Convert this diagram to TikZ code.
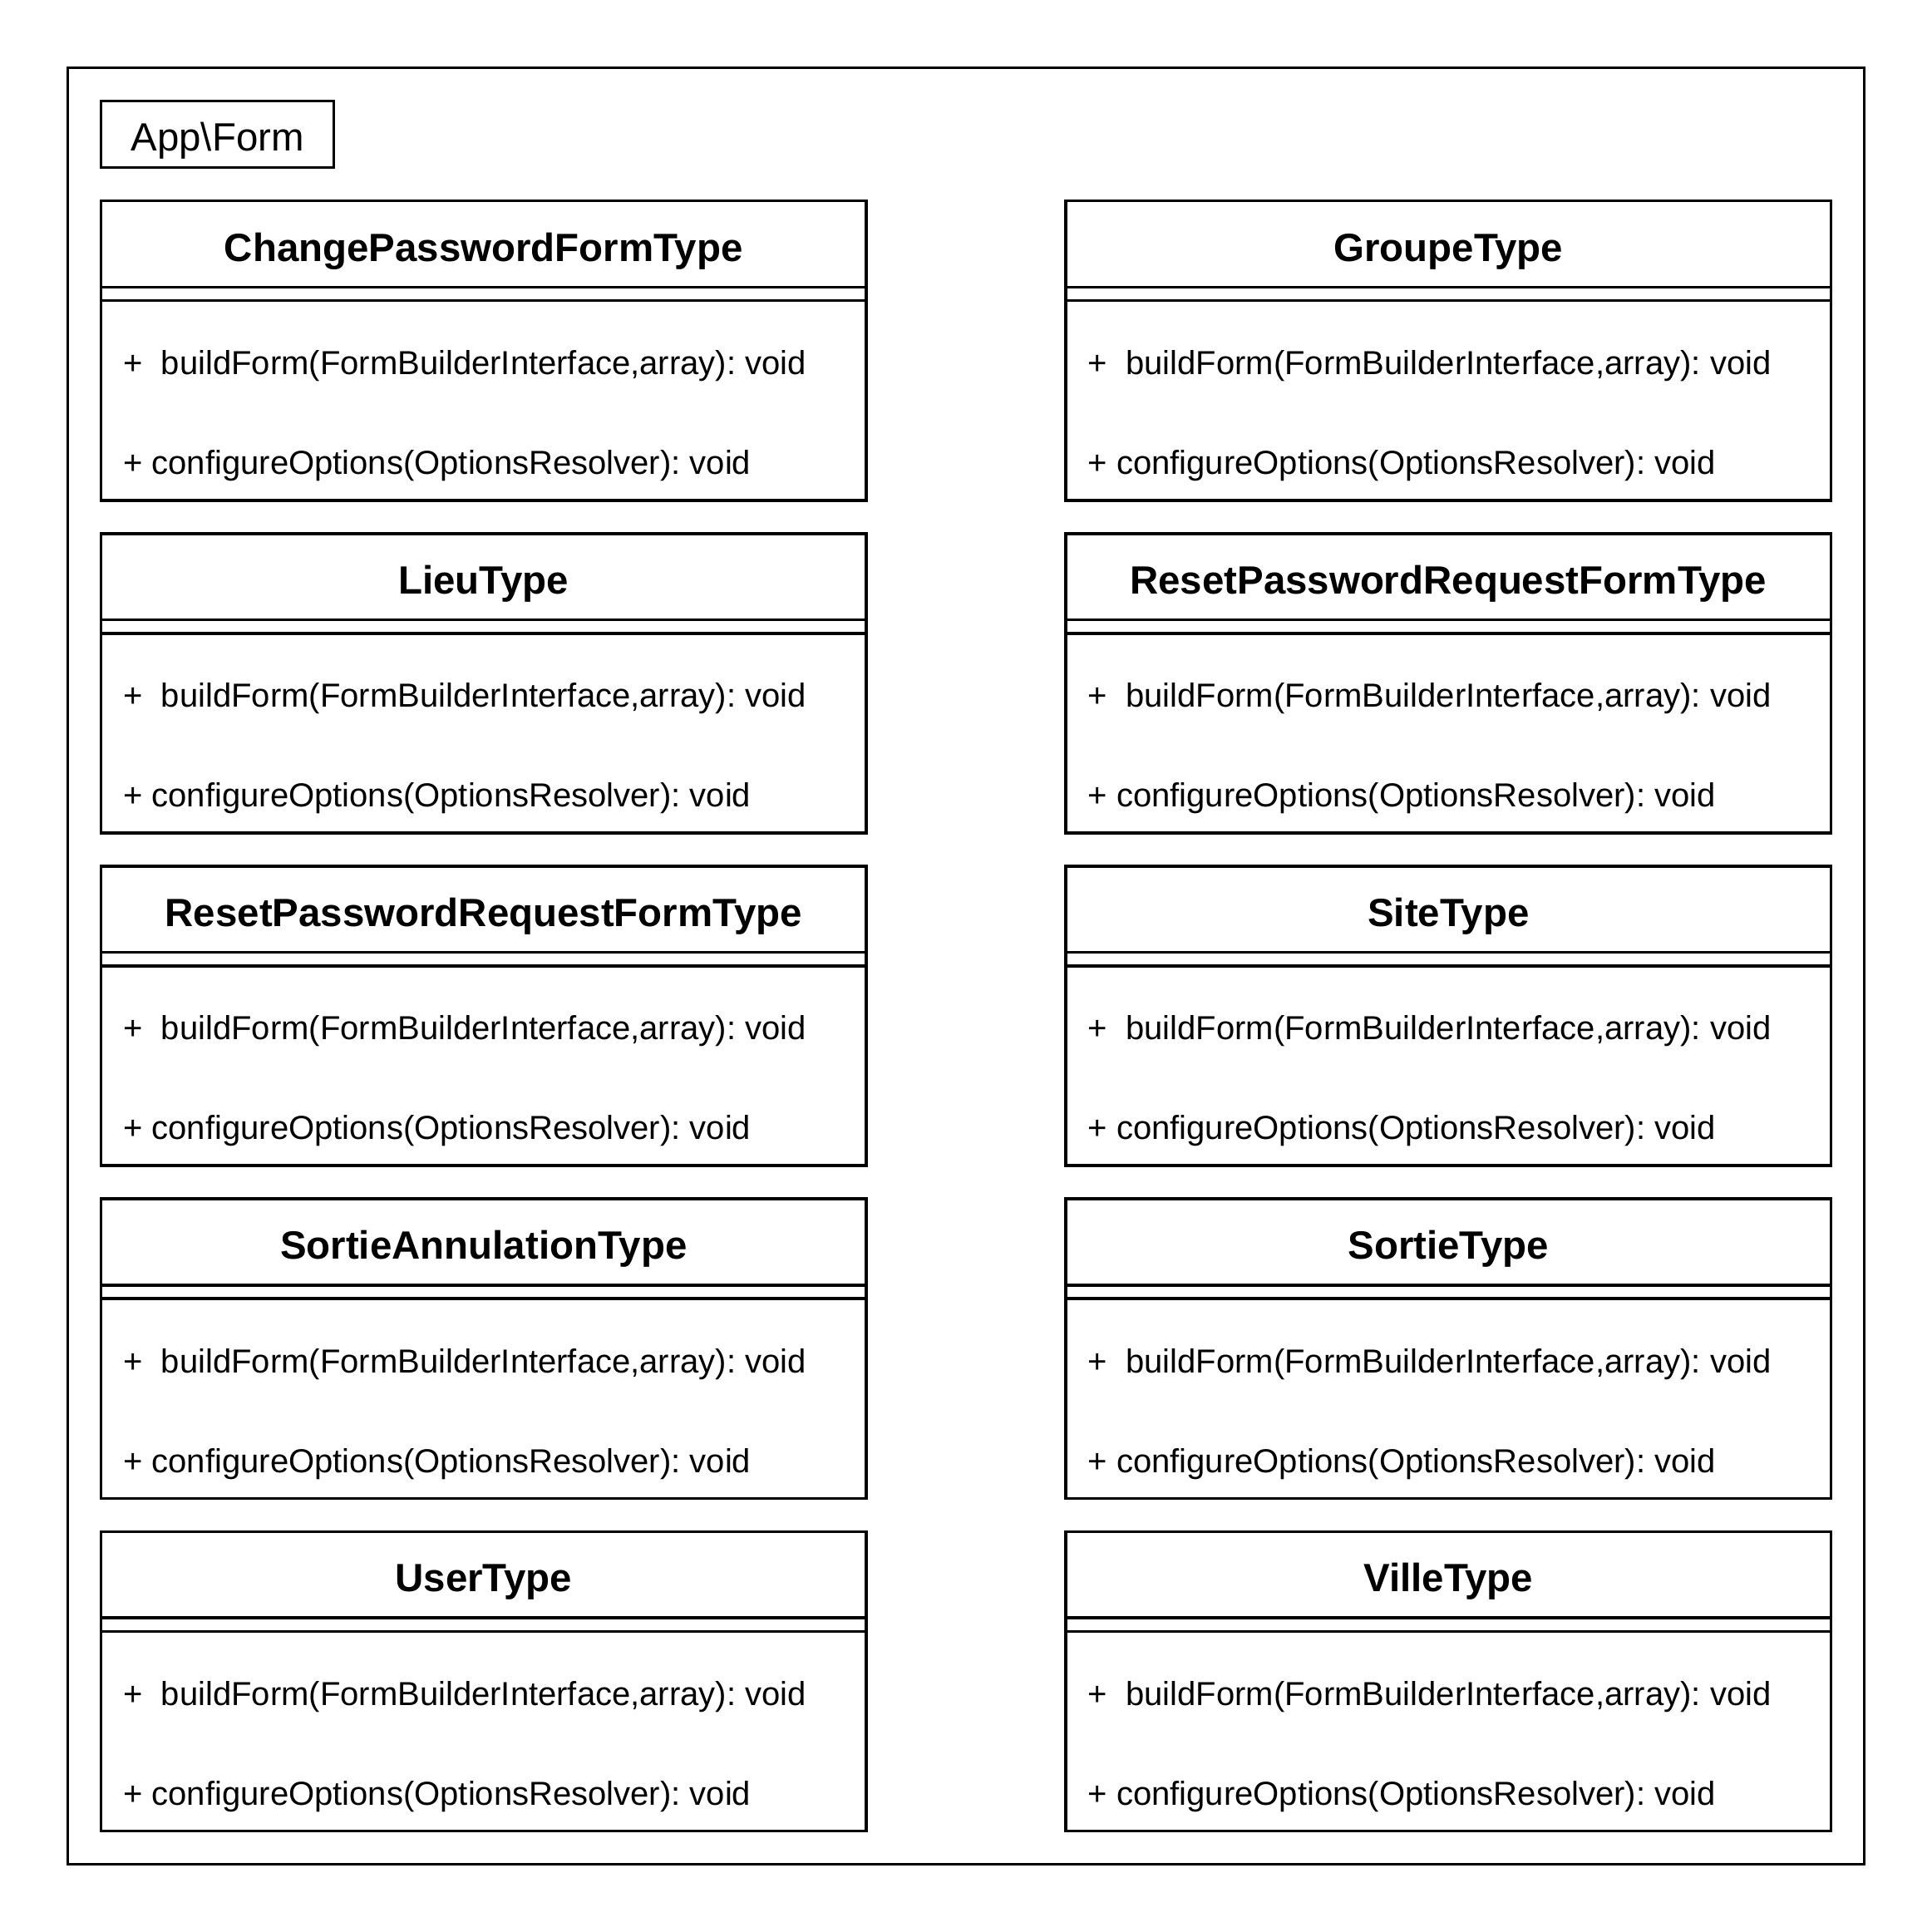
\documentclass[tikz,border=0pt]{standalone}
\usepackage{fontspec}
\setmainfont{Liberation Sans}
\usetikzlibrary{positioning,calc}
\frenchspacing
\newcommand{\mtd}[1]{{\fontsize{27}{32}\selectfont #1}}

% one class box: name, centre of the title part, title
\newcommand{\formtype}[3]{%
  \node[head] (#1) at (#2) {#3};
  \node[attrs,below=0pt of #1] (#1a) {};
  \node[methods,below=0pt of #1a] (#1m) {};
  \node[mline] (#1b) at ($(#1m.north west)+(18,53)$) {\mtd{+\ \ buildForm(FormBuilderInterface,array): void}};
  \node[mline] (#1c) at ($(#1m.north west)+(18,134)$) {\mtd{+ configureOptions(OptionsResolver): void}};
}

\begin{document}
\begin{tikzpicture}[x=1pt,y=-1pt,line width=2.4pt,
  every node/.style={outer sep=0pt},
  head/.style={draw,minimum width=621pt,minimum height=70pt,inner sep=0pt,text depth=0pt,
    text height=28pt,font=\fontsize{32}{38}\selectfont\bfseries},
  attrs/.style={draw,minimum width=621pt,minimum height=11pt,inner sep=0pt},
  methods/.style={draw,minimum width=621pt,minimum height=162pt,inner sep=0pt},
  mline/.style={anchor=west,inner sep=0pt}]

  \useasboundingbox[fill=white] (0,0) rectangle (1568,1568);

  \node[draw,minimum width=1458pt,minimum height=1458pt] (pkg) at (784,784) {};
  \node[draw,minimum width=189pt,minimum height=54pt,inner sep=0pt,text height=27pt,text depth=0pt,
    font=\fontsize{32}{38}\selectfont] (pkgname) at (176.5,109) {App\textbackslash Form};

  \formtype{chpw}{392.5,198}{ChangePasswordFormType}
  \formtype{lieu}{392.5,468}{LieuType}
  \formtype{rpwl}{392.5,738}{ResetPasswordRequestFormType}
  \formtype{annul}{392.5,1008}{SortieAnnulationType}
  \formtype{user}{392.5,1278}{UserType}

  \formtype{groupe}{1175.5,198}{GroupeType}
  \formtype{rpwr}{1175.5,468}{ResetPasswordRequestFormType}
  \formtype{site}{1175.5,738}{SiteType}
  \formtype{sortie}{1175.5,1008}{SortieType}
  \formtype{ville}{1175.5,1278}{VilleType}

\end{tikzpicture}
\end{document}
